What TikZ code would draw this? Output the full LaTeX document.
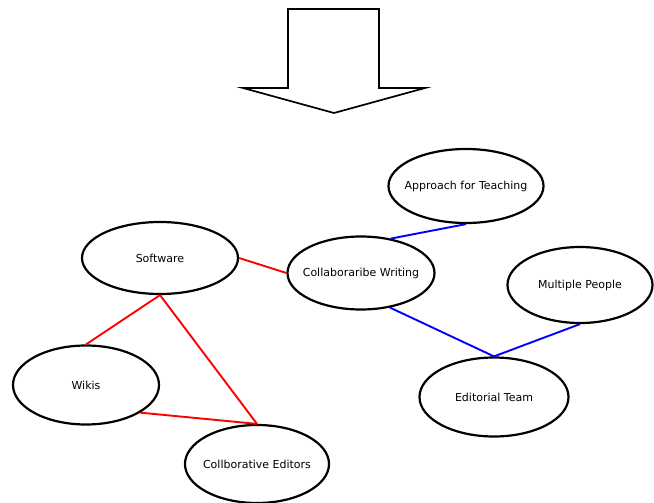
\documentclass[tikz,border=0pt]{standalone}
\usepackage{fontspec}
\setmainfont{DejaVu Sans}
\usetikzlibrary{shapes.geometric}
\newcommand{\idea}[1]{\makebox[0pt][c]{#1}}
\tikzset{
  bubble/.style={draw, ellipse, line width=2.2pt, inner sep=0pt, font=\fontsize{11}{13}\selectfont},
  redlink/.style={red, line width=1.9pt},
  bluelink/.style={blue, line width=1.9pt}
}

\begin{document}
\begin{tikzpicture}[x=1pt,y=-1pt]
    \useasboundingbox (0,0) rectangle (654,503);
    % big arrow at the top
    \draw [line width=1.7pt, line join=miter] (288,9) -- (379,9) -- (379,88) -- (425,88) -- (334,113) -- (243,88) -- (288,88) -- cycle;
    % the ideas
    \node[bubble, minimum width=156pt, minimum height=72pt] (soft) at (160,258) {\idea{Software}};
    \node[bubble, minimum width=146pt, minimum height=79pt] (wikis) at (86,385) {\idea{Wikis}};
    \node[bubble, minimum width=144pt, minimum height=78pt] (editors) at (257,464) {\idea{Collborative Editors}};
    \node[bubble, minimum width=147pt, minimum height=73pt] (writing) at (361,273) {\idea{Collaboraribe Writing}};
    \node[bubble, minimum width=155pt, minimum height=74pt] (approach) at (466,186) {\idea{Approach for Teaching}};
    \node[bubble, minimum width=145pt, minimum height=76pt] (people) at (580,285) {\idea{Multiple People}};
    \node[bubble, minimum width=149pt, minimum height=79pt] (team) at (494,397) {\idea{Editorial Team}};
    % links
    \draw [redlink] (soft.east) -- (writing.west);
    \draw [redlink] (soft.south) -- (wikis.north);
    \draw [redlink] (soft.south) -- (editors.north);
    \draw [redlink] (wikis.-27) -- (editors.north);
    \draw [bluelink] (writing.49) -- (approach.south);
    \draw [bluelink] (writing.-50) -- (team.north);
    \draw [bluelink] (people.south) -- (team.north);
\end{tikzpicture}
\end{document}
